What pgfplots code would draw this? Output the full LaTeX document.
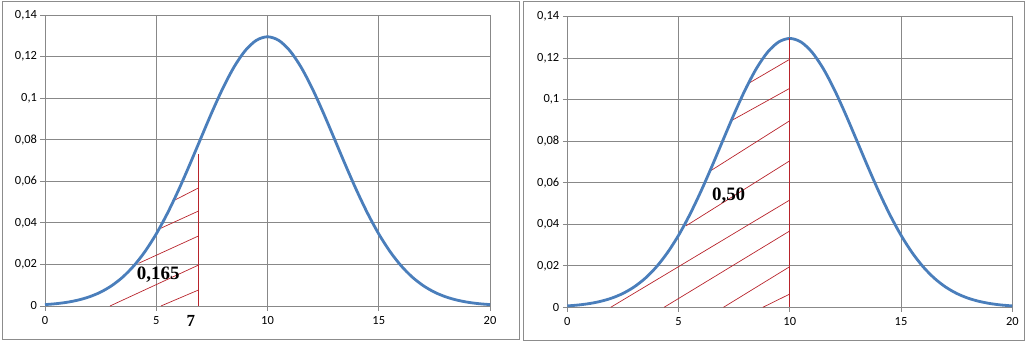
\documentclass[border=0pt]{standalone}
\usepackage{fontspec}
\setmainfont{Carlito}
\newfontfamily\serifb{Liberation Serif}
\usepackage{pgfplots}
\usepackage{pgfplotstable}
\pgfplotsset{compat=1.18}
\definecolor{curveblue}{HTML}{4A7EBB}
\definecolor{hatchred}{HTML}{B8242C}
\definecolor{gridgray}{HTML}{888888}
\definecolor{framegray}{HTML}{8C8C8C}

\pgfplotstableread{
x y
0 0.00067
0.5 0.00111
1 0.00181
1.5 0.00288
2 0.00444
2.5 0.00668
3 0.00979
3.5 0.01397
4 0.01942
4.5 0.02630
5 0.03468
5.5 0.04455
6 0.05574
6.5 0.06792
7 0.08060
7.5 0.09317
8 0.10491
8.5 0.11505
9 0.12288
9.5 0.12783
10 0.12953
10.5 0.12783
11 0.12288
11.5 0.11505
12 0.10491
12.5 0.09317
13 0.08060
13.5 0.06792
14 0.05574
14.5 0.04455
15 0.03468
15.5 0.02630
16 0.01942
16.5 0.01397
17 0.00979
17.5 0.00668
18 0.00444
18.5 0.00288
19 0.00181
19.5 0.00111
20 0.00067
}\normaldata

\pgfplotsset{mystyle/.style={
  scale only axis, width=445bp,
  xmin=0, xmax=20, ymin=0, ymax=0.14,
  xtick={0,5,10,15,20},
  ytick={0,0.02,0.04,0.06,0.08,0.1,0.12,0.14},
  grid=major,
  grid style={gridgray, line width=0.8bp},
  axis line style={gridgray, line width=0.8bp},
  major tick style={gridgray, line width=0.8bp},
  tick align=outside, major tick length=4.5bp,
  xtick pos=left, ytick pos=left,
  tick label style={font=\fontsize{12.5}{14}\selectfont, text=black},
  xticklabel style={yshift=-2bp},
  /pgf/number format/assume math mode=true,
  yticklabel style={/pgf/number format/.cd, use comma, fixed, precision=2},
  clip=false,
}}

\begin{document}
\begin{tikzpicture}
\useasboundingbox (0,0) rectangle (1025bp,343bp);
\draw[framegray, line width=1bp] (2bp,3.5bp) rectangle (519bp,341.5bp);
\draw[framegray, line width=1bp] (523bp,2.5bp) rectangle (1024bp,341.5bp);

% left panel
\begin{axis}[mystyle, height=291bp, at={(45bp,37bp)}, anchor=south west]
\addplot[hatchred, line width=0.7bp] coordinates {(5.21,0) (6.9,0.0077)};
\addplot[hatchred, line width=0.7bp] coordinates {(2.92,0) (6.9,0.0197)};
\addplot[hatchred, line width=0.7bp] coordinates {(4.2,0.0205) (6.9,0.0337)};
\addplot[hatchred, line width=0.7bp] coordinates {(5.12,0.037) (6.9,0.0457)};
\addplot[hatchred, line width=0.7bp] coordinates {(5.75,0.0505) (6.9,0.0568)};
\addplot[hatchred, line width=1bp] coordinates {(6.9,0) (6.9,0.0731)};
\addplot[curveblue, line width=2.8bp, smooth] table {\normaldata};
\node[font=\serifb\bfseries\fontsize{19}{19}\selectfont] at (axis cs:5.09,0.0149) {0,165};
\node[font=\serifb\bfseries\fontsize{17}{17}\selectfont] at (axis cs:6.56,-0.0071) {7};
\end{axis}

% right panel
\begin{axis}[mystyle, height=290.6bp, at={(567.3bp,35.7bp)}, anchor=south west]
\addplot[hatchred, line width=0.7bp] coordinates {(8.79,0) (10,0.0064)};
\addplot[hatchred, line width=0.7bp] coordinates {(7.02,0) (10,0.0196)};
\addplot[hatchred, line width=0.7bp] coordinates {(4.35,0) (10,0.0368)};
\addplot[hatchred, line width=0.7bp] coordinates {(1.95,0) (10,0.0517)};
\addplot[hatchred, line width=0.7bp] coordinates {(5.33,0.0392) (10,0.0706)};
\addplot[hatchred, line width=0.7bp] coordinates {(6.37,0.0653) (10,0.0899)};
\addplot[hatchred, line width=0.7bp] coordinates {(7.37,0.0899) (10,0.1055)};
\addplot[hatchred, line width=0.7bp] coordinates {(8.15,0.1079) (10,0.1195)};
\addplot[curveblue, line width=2.8bp, smooth] table {\normaldata};
\addplot[hatchred, line width=1bp] coordinates {(10,0) (10,0.1295)};
\node[font=\serifb\bfseries\fontsize{19}{19}\selectfont] at (axis cs:7.25,0.0536) {0,50};
\end{axis}
\end{tikzpicture}
\end{document}
